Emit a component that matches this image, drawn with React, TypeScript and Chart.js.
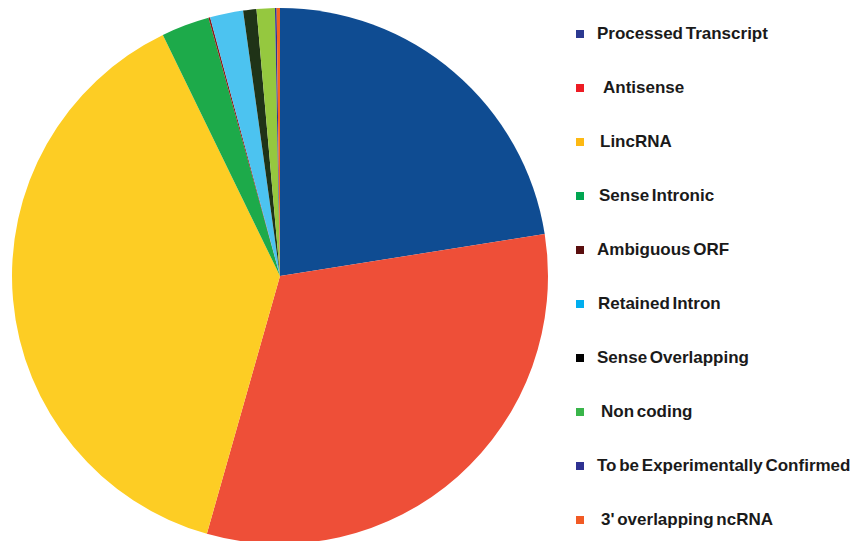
import React, { useEffect, useRef } from "react";
import { Chart, registerables } from "chart.js";

Chart.register(...registerables);

const categories = [
  "Processed Transcript",
  "Antisense",
  "LincRNA",
  "Sense Intronic",
  "Ambiguous ORF",
  "Retained Intron",
  "Sense Overlapping",
  "Non coding",
  "To be Experimentally Confirmed",
  "3' overlapping ncRNA",
];

const shares = [22.5, 31.9, 38.4, 2.9, 0.1, 2.0, 0.8, 1.1, 0.1, 0.2];

const sliceColors = [
  "#0F4C92",
  "#EE4F38",
  "#FDCD24",
  "#1DAA4A",
  "#8B1A1A",
  "#4CC3F0",
  "#1F3317",
  "#95C83F",
  "#2E3192",
  "#F26522",
];

const legendColors = [
  "#2B3990",
  "#ED1C24",
  "#FDB913",
  "#00A651",
  "#5A0E0E",
  "#00AEEF",
  "#000000",
  "#39B54A",
  "#2E3192",
  "#F15A24",
];

const legendTextIndent = [0, 6, 3, 2, 0, 1, 0, 4, 0, 4];

export default function App() {
  const canvasRef = useRef<HTMLCanvasElement | null>(null);

  useEffect(() => {
    if (!canvasRef.current) return;
    const chart = new Chart(canvasRef.current, {
      type: "pie",
      data: {
        labels: categories,
        datasets: [
          {
            data: shares,
            backgroundColor: sliceColors,
            borderWidth: 0,
            hoverOffset: 0,
            offset: 0,
          },
        ],
      },
      options: {
        animation: false,
        responsive: false,
        maintainAspectRatio: false,
        layout: { padding: { top: 8, bottom: 8, left: 0, right: 0 } },
        plugins: {
          legend: { display: false },
          tooltip: { enabled: false },
        },
      },
    });
    return () => chart.destroy();
  }, []);

  return (
    <div
      style={{
        position: "relative",
        width: 867,
        height: 541,
        overflow: "hidden",
        background: "#ffffff",
      }}
    >
      <style>{`html,body{margin:0;padding:0;background:#fff;}`}</style>
      <canvas
        ref={canvasRef}
        width={560}
        height={552}
        style={{ position: "absolute", left: 0, top: 0, width: 560, height: 552 }}
      />
      {categories.map((name, i) => (
        <div
          key={name}
          style={{
            position: "absolute",
            left: 576,
            top: 34 + 54 * i - 12,
            height: 24,
            display: "flex",
            alignItems: "center",
            whiteSpace: "nowrap",
            fontFamily: "'Liberation Sans', Arial, sans-serif",
            fontWeight: 700,
            fontSize: 17,
            wordSpacing: -2,
            color: "#1a1a1a",
          }}
        >
          <span
            style={{
              display: "inline-block",
              width: 8,
              height: 8,
              background: legendColors[i],
              marginRight: 13 + legendTextIndent[i],
            }}
          />
          <span>{name}</span>
        </div>
      ))}
    </div>
  );
}
